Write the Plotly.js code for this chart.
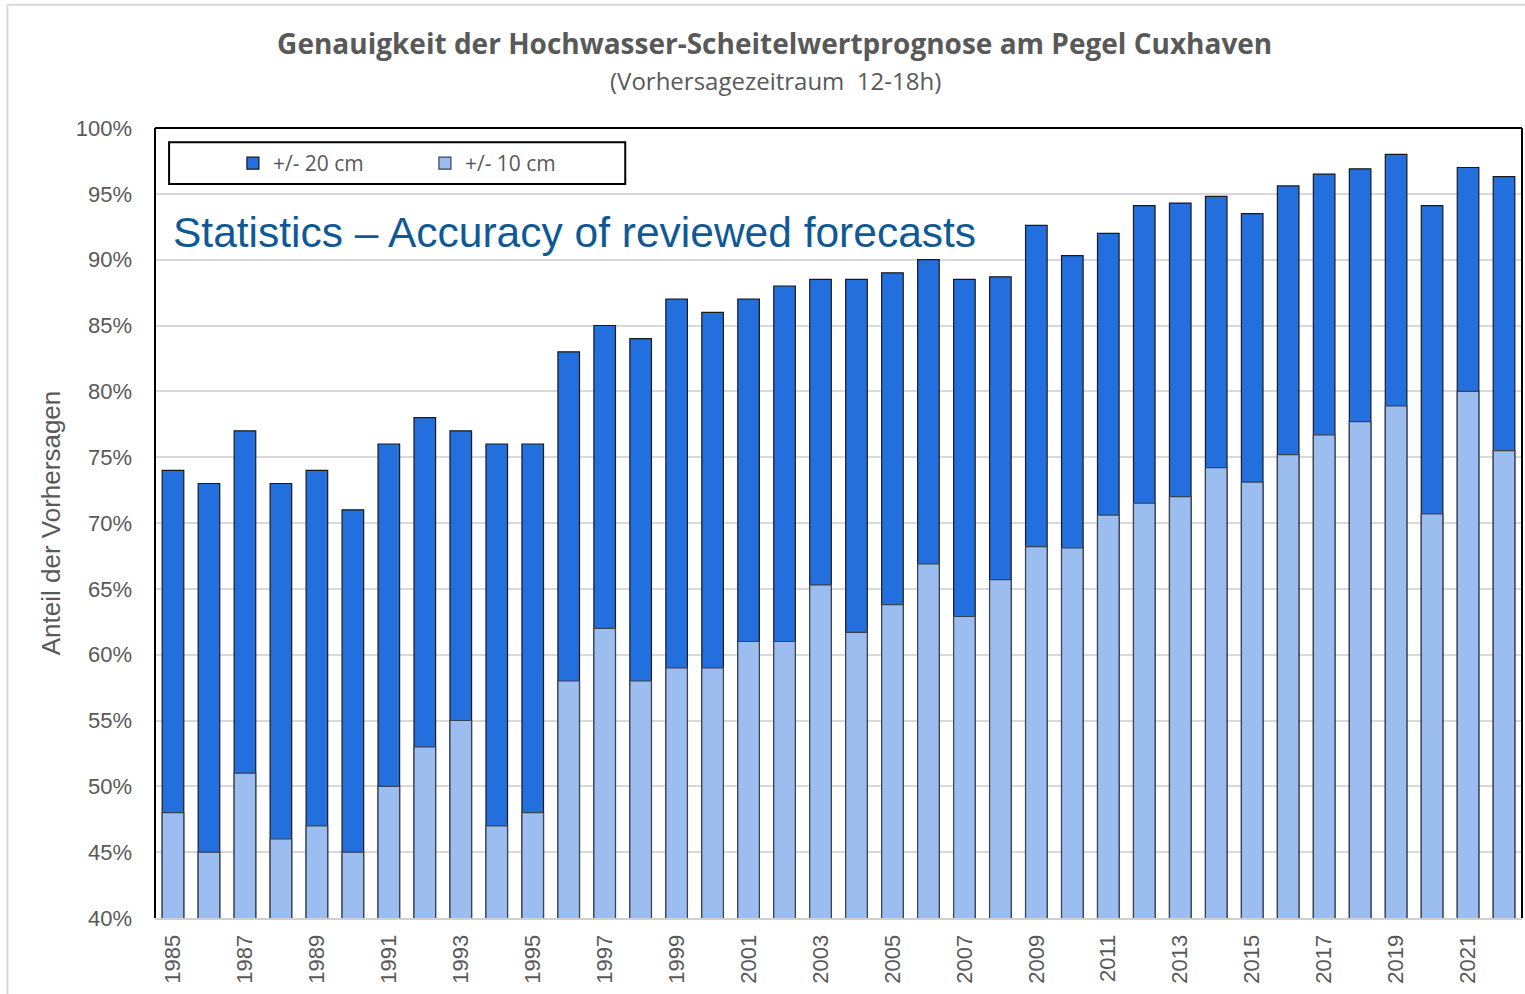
<!DOCTYPE html>
<html>
<head>
<meta charset="utf-8">
<script src="https://cdn.plot.ly/plotly-3.0.1.min.js"></script>
<style>html,body{margin:0;padding:0;background:#fff}#chart{width:1525px;height:994px}</style>
</head>
<body>
<div id="chart"></div>
<script>
const years = [1985,1986,1987,1988,1989,1990,1991,1992,1993,1994,1995,1996,1997,1998,1999,2000,2001,2002,2003,2004,2005,2006,2007,2008,2009,2010,2011,2012,2013,2014,2015,2016,2017,2018,2019,2020,2021,2022];
const within20 = [74,73,77,73,74,71,76,78,77,76,76,83,85,84,87,86,87,88,88.5,88.5,89,90,88.5,88.7,92.6,90.3,92,94.1,94.3,94.8,93.5,95.6,96.5,96.9,98,94.1,97,96.3];
const within10 = [48,45,51,46,47,45,50,53,55,47,48,58,62,58,59,59,61,61,65.3,61.7,63.8,66.9,62.9,65.7,68.2,68.1,70.6,71.5,72,74.2,73.1,75.2,76.7,77.7,78.9,70.7,80,75.5];
const seriesNames = ['+/- 20 cm', '+/- 10 cm'];
const tickYears = [1985,1987,1989,1991,1993,1995,1997,1999,2001,2003,2005,2007,2009,2011,2013,2015,2017,2019,2021];

const gray = '#595959';
const traces = [
  {type:'bar', x: years, y: within20, name: seriesNames[0], width: 0.6,
   marker:{color:'#236fdd', line:{color:'#1a1a1a', width:1.2}}},
  {type:'bar', x: years, y: within10, name: seriesNames[1], width: 0.6,
   marker:{color:'#9bbdf0', line:{color:'#3a4250', width:1.2}}}
];
const layout = {
  width:1525, height:994,
  paper_bgcolor:'#fff', plot_bgcolor:'#fff',
  margin:{l:155, r:3, t:128, b:76},
  barmode:'overlay',
  showlegend:true,
  legend:{orientation:'h', x:0.057, y:0.955, xanchor:'left', yanchor:'middle',
          font:{family:'Open Sans, sans-serif', size:21, color:gray},
          bgcolor:'rgba(0,0,0,0)', borderwidth:0, entrywidth:147, itemwidth:30},
  title:{text:'<b>Genauigkeit der Hochwasser-Scheitelwertprognose am Pegel Cuxhaven</b>',
         x:0.508, xref:'container', xanchor:'center', y:0.956, yanchor:'middle',
         font:{family:'Open Sans, sans-serif', size:28, color:gray}},
  xaxis:{range:[1984.5,2022.5], tickmode:'array', tickvals:tickYears, ticktext:tickYears.map(String),
         tickangle:-90, tickfont:{family:'Liberation Sans, Arial, sans-serif', size:22, color:gray},
         showgrid:false, zeroline:false, showline:true, linecolor:'#d0d0d0', linewidth:2, ticks:'', ticklabelstandoff:6},
  yaxis:{range:[40,100], dtick:5, tick0:40, ticksuffix:'%',
         tickfont:{family:'Liberation Sans, Arial, sans-serif', size:22, color:gray},
         gridcolor:'#d9d9d9', gridwidth:2, zeroline:false, showline:false, ticks:'', ticklabelstandoff:22,
         title:{text:'Anteil der Vorhersagen', standoff:7, font:{family:'Liberation Sans, Arial, sans-serif', size:26, color:gray}}},
  annotations:[
    {text:'(Vorhersagezeitraum  12-18h)', xref:'paper', yref:'paper', x:0.454, y:1.06, xanchor:'center', yanchor:'middle',
     showarrow:false, font:{family:'Open Sans, sans-serif', size:24, color:gray}},
    {text:'Statistics – Accuracy of reviewed forecasts', xref:'paper', yref:'paper', x:0.0115, y:0.868, xanchor:'left', yanchor:'middle',
     showarrow:false, font:{family:'Liberation Sans, Arial, sans-serif', size:42.5, color:'#0f5a96'}}
  ],
  shapes:[
    {type:'line', xref:'paper', yref:'paper', x0:0, x1:0, y0:0, y1:1, line:{color:'#000', width:2}},
    {type:'line', xref:'paper', yref:'paper', x0:0, x1:1, y0:1, y1:1, line:{color:'#000', width:2}},
    {type:'line', xref:'paper', yref:'paper', x0:1, x1:1, y0:0, y1:1, line:{color:'#000', width:2}},
    {type:'rect', xref:'paper', yref:'paper', x0:0.0103, x1:0.344, y0:0.929, y1:0.982, line:{color:'#000', width:2}},
    {type:'line', xref:'paper', yref:'paper', x0:-0.108, x1:1.01, y0:1.156, y1:1.156, line:{color:'#d9d9d9', width:2}},
    {type:'line', xref:'paper', yref:'paper', x0:-0.108, x1:-0.108, y0:1.156, y1:-0.1, line:{color:'#d9d9d9', width:2}}
  ]
};
Plotly.newPlot('chart', traces, layout, {displayModeBar:false, staticPlot:true});
</script>
</body>
</html>
